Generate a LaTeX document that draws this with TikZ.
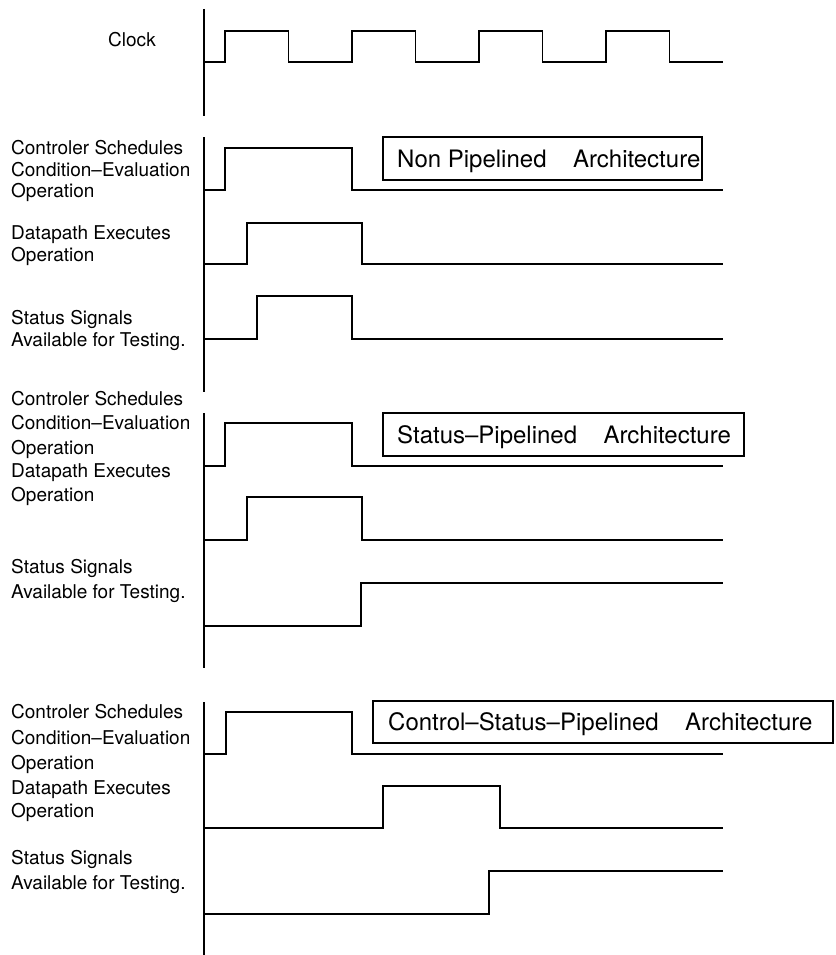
\documentclass[tikz,border=0pt]{standalone}
\usepackage{fontspec}
\setmainfont{TeX Gyre Heros}
\begin{document}
\begin{tikzpicture}[x=1pt,y=-1pt,
  sig/.style={line width=1.8pt, line join=miter},
  axisln/.style={line width=2.6pt},
  archbox/.style={draw, line width=1.6pt},
  lbl/.style={anchor=base west, inner sep=0pt, font=\fontsize{19}{22}\selectfont},
  boxtxt/.style={anchor=base west, inner sep=0pt, font=\fontsize{24}{28}\selectfont}]
\useasboundingbox (0,0) rectangle (835,955);

% Clock
\node[lbl] (clk) at (108,47) {Clock};
\draw[axisln] (204,9) -- (204,116);
\draw[sig] (204,62) -- (225,62) -- (225,31) -- (288.5,31) -- (288.5,62) -- (352,62) -- (352,31) -- (415.5,31) -- (415.5,62) -- (479,62) -- (479,31) -- (542.5,31) -- (542.5,62) -- (606,62) -- (606,31) -- (669.5,31) -- (669.5,62) -- (723,62);

% Section 1: Non pipelined
\node[lbl] (a1) at (11,154) {Controler Schedules};
\node[lbl] (a2) at (11,176) {Condition--Evaluation};
\node[lbl] (a3) at (11,197) {Operation};
\node[lbl] (a4) at (11,239) {Datapath Executes};
\node[lbl] (a5) at (11,261) {Operation};
\node[lbl] (a6) at (11,324) {Status Signals};
\node[lbl] (a7) at (11,346) {Available for Testing.};
\draw[axisln] (204,137) -- (204,392);
\draw[sig] (204,190) -- (225,190) -- (225,148) -- (352,148) -- (352,190) -- (723,190);
\draw[sig] (204,264) -- (247,264) -- (247,223) -- (362,223) -- (362,264) -- (723,264);
\draw[sig] (204,339) -- (257,339) -- (257,296) -- (352,296) -- (352,339) -- (723,339);
\draw[archbox] (383,137) rectangle (702,180);
\node[boxtxt] (t1) at (397,167) {Non Pipelined\hspace{1.1em}Architecture};

% Section 2: Status pipelined
\node[lbl] (b1) at (11,405) {Controler Schedules};
\node[lbl] (b2) at (11,429) {Condition--Evaluation};
\node[lbl] (b3) at (11,454) {Operation};
\node[lbl] (b4) at (11,477) {Datapath Executes};
\node[lbl] (b5) at (11,501) {Operation};
\node[lbl] (b6) at (11,573) {Status Signals};
\node[lbl] (b7) at (11,598) {Available for Testing.};
\draw[axisln] (204,413) -- (204,668);
\draw[sig] (204,466) -- (225,466) -- (225,423) -- (352,423) -- (352,466) -- (723,466);
\draw[sig] (204,540) -- (247,540) -- (247,497) -- (362,497) -- (362,540) -- (723,540);
\draw[sig] (204,626) -- (361,626) -- (361,583) -- (723,583);
\draw[archbox] (383,413) rectangle (744,456);
\node[boxtxt] (t2) at (397,443) {Status--Pipelined\hspace{1.1em}Architecture};

% Section 3: Control-status pipelined
\node[lbl] (c1) at (11,718) {Controler Schedules};
\node[lbl] (c2) at (11,744) {Condition--Evaluation};
\node[lbl] (c3) at (11,769) {Operation};
\node[lbl] (c4) at (11,794) {Datapath Executes};
\node[lbl] (c5) at (11,817) {Operation};
\node[lbl] (c6) at (11,864) {Status Signals};
\node[lbl] (c7) at (11,889) {Available for Testing.};
\draw[axisln] (204,702) -- (204,955);
\draw[sig] (204,754) -- (226,754) -- (226,712) -- (352,712) -- (352,754) -- (723,754);
\draw[sig] (204,828) -- (383,828) -- (383,786) -- (500,786) -- (500,828) -- (723,828);
\draw[sig] (204,914) -- (489,914) -- (489,871) -- (723,871);
\draw[archbox] (373,701) rectangle (833,743);
\node[boxtxt] (t3) at (388,730) {Control--Status--Pipelined\hspace{1.1em}Architecture};
\end{tikzpicture}
\end{document}
